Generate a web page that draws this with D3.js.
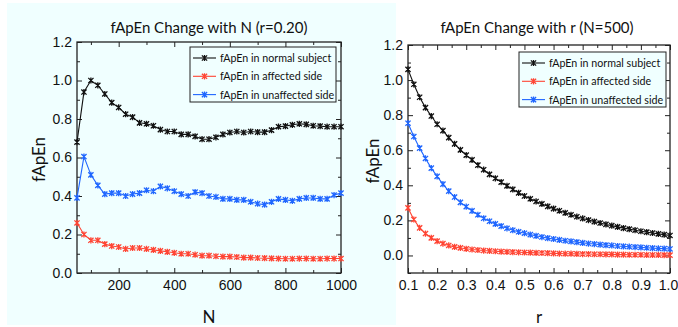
<!DOCTYPE html>
<html>
<head>
<meta charset="utf-8">
<script src="https://d3js.org/d3.v7.min.js"></script>
<style>
body { margin: 0; background: #fff; }
svg { display: block; font-family: Lato, "Open Sans", sans-serif; }
.tick text { font-size: 14px; fill: #111; }
</style>
</head>
<body>
<svg id="chart" width="678" height="327"></svg>
<script>
// ---- data: fApEn vs N (r = 0.20) ----
var nValues = [50, 75, 100, 125, 150, 175, 200, 225, 250, 275, 300, 325, 350, 375, 400, 425, 450, 475, 500,
  525, 550, 575, 600, 625, 650, 675, 700, 725, 750, 775, 800, 825, 850, 875, 900, 925, 950, 975, 1000];
var nNormal = [0.68, 0.94, 1.00, 0.975, 0.93, 0.885, 0.86, 0.825, 0.81, 0.78, 0.775, 0.765, 0.745, 0.735, 0.735,
  0.72, 0.72, 0.71, 0.695, 0.695, 0.705, 0.72, 0.73, 0.735, 0.73, 0.735, 0.732, 0.732, 0.742, 0.76, 0.763,
  0.77, 0.775, 0.772, 0.765, 0.763, 0.76, 0.76, 0.76];
var nAffected = [0.26, 0.20, 0.17, 0.17, 0.15, 0.14, 0.135, 0.125, 0.13, 0.13, 0.125, 0.12, 0.115, 0.11, 0.105,
  0.10, 0.10, 0.095, 0.09, 0.09, 0.087, 0.085, 0.085, 0.083, 0.08, 0.08, 0.078, 0.077, 0.076, 0.075, 0.074,
  0.074, 0.075, 0.075, 0.074, 0.074, 0.075, 0.075, 0.075];
var nUnaffected = [0.39, 0.605, 0.51, 0.455, 0.41, 0.415, 0.415, 0.40, 0.41, 0.415, 0.43, 0.425, 0.45, 0.44, 0.425,
  0.41, 0.40, 0.42, 0.415, 0.40, 0.395, 0.385, 0.385, 0.38, 0.38, 0.37, 0.36, 0.355, 0.37, 0.385, 0.38,
  0.375, 0.385, 0.39, 0.39, 0.385, 0.385, 0.405, 0.415];

// ---- data: fApEn vs r (N = 500) ----
var rValues = [0.10, 0.12, 0.14, 0.16, 0.18, 0.20, 0.22, 0.24, 0.26, 0.28, 0.30, 0.32, 0.34, 0.36, 0.38, 0.40,
  0.42, 0.44, 0.46, 0.48, 0.50, 0.52, 0.54, 0.56, 0.58, 0.60, 0.62, 0.64, 0.66, 0.68, 0.70, 0.72, 0.74, 0.76,
  0.78, 0.80, 0.82, 0.84, 0.86, 0.88, 0.90, 0.92, 0.94, 0.96, 0.98, 1.00];
var rNormal = [1.061, 0.976, 0.902, 0.843, 0.795, 0.748, 0.712, 0.672, 0.636, 0.602, 0.572, 0.545, 0.515, 0.489,
  0.462, 0.440, 0.418, 0.397, 0.377, 0.357, 0.339, 0.323, 0.308, 0.294, 0.280, 0.267, 0.255, 0.243, 0.232,
  0.221, 0.211, 0.202, 0.193, 0.185, 0.177, 0.170, 0.163, 0.156, 0.150, 0.144, 0.138, 0.133, 0.128, 0.123,
  0.119, 0.114];
var rAffected = [0.271, 0.205, 0.157, 0.125, 0.100, 0.082, 0.068, 0.057, 0.049, 0.043, 0.038, 0.034, 0.031, 0.028,
  0.026, 0.024, 0.022, 0.021, 0.019, 0.018, 0.017, 0.016, 0.015, 0.014, 0.013, 0.012, 0.011, 0.010, 0.010,
  0.009, 0.008, 0.008, 0.007, 0.007, 0.006, 0.006, 0.005, 0.005, 0.004, 0.004, 0.004, 0.003, 0.003, 0.003,
  0.002, 0.002];
var rUnaffected = [0.754, 0.678, 0.612, 0.553, 0.498, 0.451, 0.407, 0.367, 0.333, 0.303, 0.278, 0.254, 0.232,
  0.212, 0.195, 0.180, 0.167, 0.155, 0.144, 0.135, 0.127, 0.119, 0.112, 0.105, 0.099, 0.094, 0.089, 0.084,
  0.080, 0.076, 0.072, 0.068, 0.065, 0.062, 0.059, 0.057, 0.054, 0.052, 0.050, 0.048, 0.046, 0.044, 0.042,
  0.040, 0.039, 0.037];

var seriesNames = ["fApEn in normal subject", "fApEn in affected side", "fApEn in unaffected side"];
var seriesColors = ["#111111", "#ff4433", "#1f66ff"];

var yTicksLeft = [0.0, 0.2, 0.4, 0.6, 0.8, 1.0, 1.2];
var yMinorLeft = [0.1, 0.3, 0.5, 0.7, 0.9, 1.1];
var xTicksN = [200, 400, 600, 800, 1000];
var xMinorN = [100, 300, 500, 700, 900];
var xTicksR = [0.1, 0.2, 0.3, 0.4, 0.5, 0.6, 0.7, 0.8, 0.9, 1.0];
var xMinorR = [0.15, 0.25, 0.35, 0.45, 0.55, 0.65, 0.75, 0.85, 0.95];
var yMinorRight = [-0.1, 0.1, 0.3, 0.5, 0.7, 0.9, 1.1];

var svg = d3.select("#chart");

// cyan backdrop of the left figure
svg.append("rect").attr("x", 7).attr("y", 3).attr("width", 389).attr("height", 322).attr("fill", "#f0ffff");

function star(g, x, y, color) {
  var s = 2.6;
  g.append("path")
    .attr("d", "M" + (x - s) + "," + (y - s) + "L" + (x + s) + "," + (y + s) +
      "M" + (x - s) + "," + (y + s) + "L" + (x + s) + "," + (y - s) +
      "M" + x + "," + (y - s - 0.5) + "L" + x + "," + (y + s + 0.5))
    .attr("stroke", color).attr("stroke-width", 1.3).attr("fill", "none");
}

function panel(opt) {
  var g = svg.append("g");
  var x = d3.scaleLinear().domain(opt.xDomain).range([opt.left, opt.right]);
  var y = d3.scaleLinear().domain(opt.yDomain).range([opt.bottom, opt.top]);
  var w = opt.right - opt.left, h = opt.bottom - opt.top;

  if (opt.plotFill) {
    g.append("rect").attr("x", opt.left).attr("y", opt.top).attr("width", w).attr("height", h)
      .attr("fill", opt.plotFill);
  }

  // axes with ticks pointing inward, mirrored on top/right
  function ax(axis, tx, ty, labels) {
    var a = g.append("g").attr("transform", "translate(" + tx + "," + ty + ")").call(axis);
    a.select(".domain").remove();
    a.selectAll("line").attr("stroke", "#222").attr("stroke-width", 1);
    if (!labels) a.selectAll("text").remove();
    return a;
  }
  var xa = ax(d3.axisBottom(x).tickValues(opt.xTicks).tickSize(-5).tickPadding(7).tickFormat(opt.xFormat), 0, opt.bottom, true);
  // keep the last label inside the window
  if (opt.lastDx) xa.selectAll(".tick:last-of-type text").attr("dx", opt.lastDx);
  ax(d3.axisBottom(x).tickValues(opt.xMinor).tickSize(-3), 0, opt.bottom, false);
  ax(d3.axisTop(x).tickValues(opt.xTicks).tickSize(-5), 0, opt.top, false);
  ax(d3.axisTop(x).tickValues(opt.xMinor).tickSize(-3), 0, opt.top, false);
  ax(d3.axisLeft(y).tickValues(yTicksLeft).tickSize(-5).tickPadding(5).tickFormat(d3.format(".1f")), opt.left, 0, true);
  ax(d3.axisLeft(y).tickValues(opt.yMinor).tickSize(-3), opt.left, 0, false);
  ax(d3.axisRight(y).tickValues(yTicksLeft).tickSize(-5), opt.right, 0, false);
  ax(d3.axisRight(y).tickValues(opt.yMinor).tickSize(-3), opt.right, 0, false);

  g.append("rect").attr("x", opt.left).attr("y", opt.top).attr("width", w).attr("height", h)
    .attr("fill", "none").attr("stroke", "#222").attr("stroke-width", 1.3);

  // series
  var line = d3.line().x(function (d) { return x(d[0]); }).y(function (d) { return y(d[1]); });
  opt.series.forEach(function (vals, k) {
    var pts = opt.xs.map(function (v, i) { return [v, vals[i]]; });
    g.append("path").datum(pts).attr("d", line).attr("fill", "none")
      .attr("stroke", seriesColors[k]).attr("stroke-width", 1.1);
    var mg = g.append("g");
    pts.forEach(function (p) { star(mg, x(p[0]), y(p[1]), seriesColors[k]); });
  });

  // legend
  var lg = g.append("g");
  lg.append("rect").attr("x", opt.legend[0]).attr("y", opt.legend[1]).attr("width", opt.legend[2])
    .attr("height", opt.legend[3]).attr("fill", "#f0ffff").attr("stroke", "#222").attr("stroke-width", 1);
  seriesNames.forEach(function (name, k) {
    var ly = opt.legend[1] + 11 + k * 18.3;
    var lx = opt.legend[0] + 3;
    lg.append("line").attr("x1", lx).attr("x2", lx + 23).attr("y1", ly).attr("y2", ly)
      .attr("stroke", seriesColors[k]).attr("stroke-width", 1.1);
    star(lg, lx + 11.5, ly, seriesColors[k]);
    lg.append("text").attr("x", lx + 27).attr("y", ly + 4).attr("font-size", 10.7).attr("fill", "#111").text(name);
  });

  // titles
  g.append("text").attr("x", (opt.left + opt.right) / 2 + opt.titleDx).attr("y", 33).attr("text-anchor", "middle")
    .attr("font-size", 15).attr("fill", "#111").text(opt.title);
  g.append("text").attr("x", (opt.left + opt.right) / 2).attr("y", 323).attr("text-anchor", "middle")
    .attr("font-size", 17).attr("fill", "#111").text(opt.xLabel);
  g.append("text").attr("transform", "translate(" + opt.yLabelX + "," + ((opt.top + opt.bottom) / 2 + 2) + ") rotate(-90)")
    .attr("text-anchor", "middle").attr("font-size", 17).attr("fill", "#111").text("fApEn");
}

panel({
  left: 77, right: 341, top: 42, bottom: 273,
  xDomain: [50, 1000], yDomain: [0, 1.2],
  xTicks: xTicksN, xMinor: xMinorN, yMinor: yMinorLeft, xFormat: d3.format("d"),
  xs: nValues, series: [nNormal, nAffected, nUnaffected],
  legend: [190, 47, 146, 55],
  title: "fApEn Change with N (r=0.20)", titleDx: 0, xLabel: "N", yLabelX: 45
});

panel({
  left: 408, right: 670, top: 45, bottom: 273,
  xDomain: [0.1, 1.0], yDomain: [-0.1, 1.2], plotFill: "#ffffff",
  xTicks: xTicksR, xMinor: xMinorR, yMinor: yMinorRight, xFormat: d3.format(".1f"), lastDx: -2,
  xs: rValues, series: [rNormal, rAffected, rUnaffected],
  legend: [519, 52, 147, 55],
  title: "fApEn Change with r (N=500)", titleDx: -2, xLabel: "r", yLabelX: 379
});
</script>
</body>
</html>
